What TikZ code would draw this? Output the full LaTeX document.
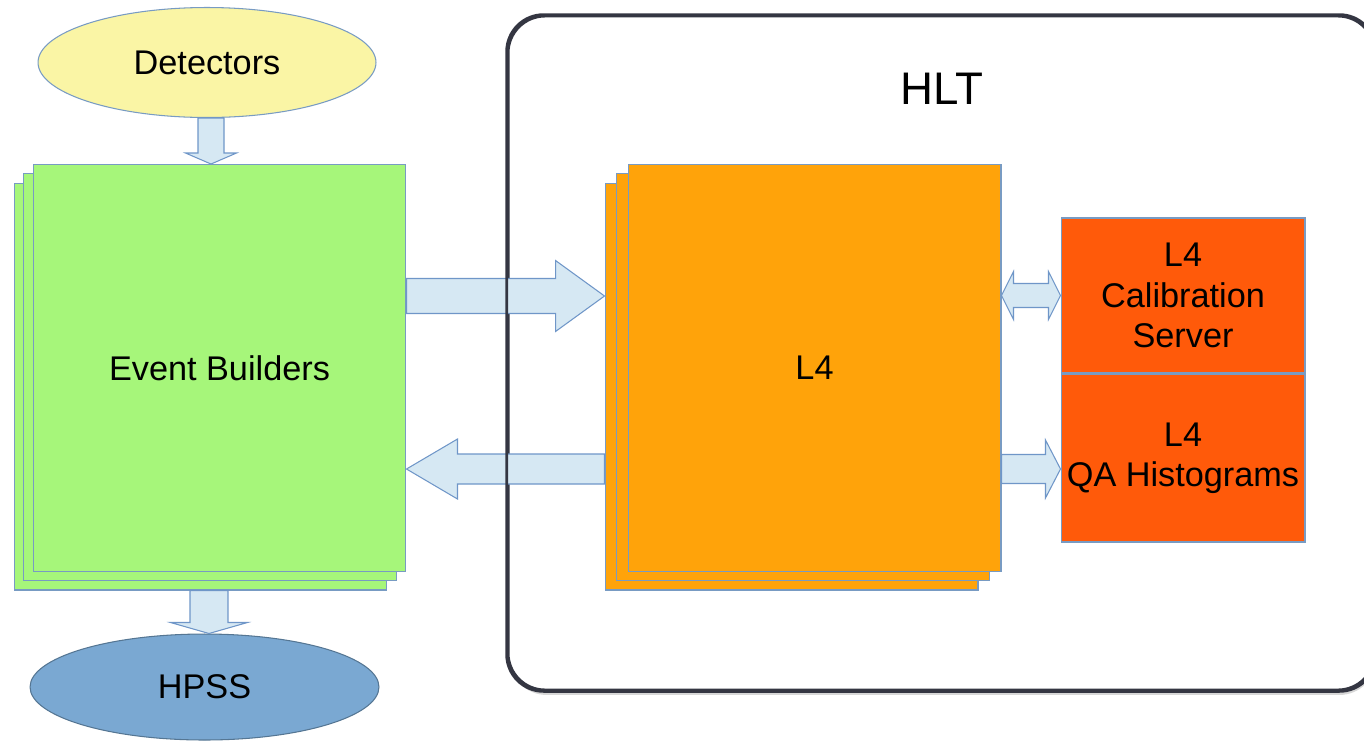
\documentclass[tikz,border=0pt]{standalone}
\usepackage{fontspec}
\setmainfont{Liberation Sans}
\usetikzlibrary{calc,shapes.geometric,shadows}

\definecolor{detyellow}{RGB}{250,245,165}
\definecolor{hpssblue}{RGB}{122,168,210}
\definecolor{ebgreen}{RGB}{166,246,122}
\definecolor{lforange}{RGB}{255,163,10}
\definecolor{siderange}{RGB}{255,90,10}
\definecolor{boxline}{RGB}{120,155,195}
\definecolor{hltline}{RGB}{52,54,66}
\definecolor{arrowfill}{RGB}{214,232,243}
\definecolor{arrowline}{RGB}{111,150,200}

% fat block arrow: from, to, half shaft, half head, head length
\newcommand{\fatarrow}[5]{%
  \path ($(#2)!#5!(#1)$) coordinate (fa-c);
  \draw[fat] ($(#1)!#3!90:(#2)$) -- ($(fa-c)!#3!90:(#2)$) -- ($(fa-c)!#4!90:(#2)$) -- (#2)
    -- ($(fa-c)!#4!-90:(#2)$) -- ($(fa-c)!#3!-90:(#2)$) -- ($(#1)!#3!-90:(#2)$) -- cycle;
}
% same, with a head at both ends
\newcommand{\fatdarrow}[5]{%
  \path ($(#1)!#5!(#2)$) coordinate (fa-a) ($(#2)!#5!(#1)$) coordinate (fa-c);
  \draw[fat] (#1) -- ($(fa-a)!#4!90:(#2)$) -- ($(fa-a)!#3!90:(#2)$) -- ($(fa-c)!#3!90:(#2)$)
    -- ($(fa-c)!#4!90:(#2)$) -- (#2) -- ($(fa-c)!#4!-90:(#2)$) -- ($(fa-c)!#3!-90:(#2)$)
    -- ($(fa-a)!#3!-90:(#2)$) -- ($(fa-a)!#4!-90:(#2)$) -- cycle;
}

\tikzset{
  every node/.style={font=\fontsize{19.5}{23}\selectfont, align=center},
  hltbox/.style={draw=hltline, line width=1.6pt, rounded corners=0.74cm, fill=white,
    minimum width=17.34cm, minimum height=13.48cm,
    drop shadow={shadow xshift=0.03cm, shadow yshift=-0.1cm, fill=black!35, opacity=0.45}},
  stackbox/.style={draw=boxline, line width=0.6pt, minimum width=7.46cm, minimum height=8.14cm},
  sidebox/.style={draw=boxline, line width=0.6pt, fill=siderange, minimum width=4.88cm},
  oval/.style={ellipse, draw=boxline, line width=0.6pt, inner sep=0pt},
  fat/.style={draw=arrowline, fill=arrowfill, line width=0.6pt, line join=miter},
}

\begin{document}
\begin{tikzpicture}[x=0.02cm, y=-0.02cm]
    \useasboundingbox (0,0) rectangle (1364,741);

    % HLT frame
    \node[hltbox] (hlt) at (941.5,353) {};
    \node[font=\fontsize{26}{30}\selectfont] (hlttitle) at ([yshift=-1.48cm]hlt.north) {HLT};

    % sources and sink
    \node[oval, fill=detyellow, minimum width=6.76cm, minimum height=2.2cm] (detectors) at (207,62.5) {Detectors};
    \node[oval, fill=hpssblue, draw=hpssblue!70!black, minimum width=6.98cm, minimum height=2.12cm] (hpss) at (204.5,687) {HPSS};

    % Event builder stack
    \node[stackbox, fill=ebgreen] (builders3) at (200.5,386.5) {};
    \node[stackbox, fill=ebgreen] (builders2) at ([shift={(9.5,-9.25)}]builders3.center) {};
    \node[stackbox, fill=ebgreen] (builders) at ([shift={(9.5,-9.25)}]builders2.center) {Event Builders};

    % L4 stack
    \node[stackbox, fill=lforange] (l4c) at (791.5,386.5) {};
    \node[stackbox, fill=lforange] (l4b) at ([shift={(11.5,-9.25)}]l4c.center) {};
    \node[stackbox, fill=lforange] (l4) at ([shift={(11.5,-9.25)}]l4b.center) {L4};

    % calibration and QA
    \node[sidebox, minimum height=3.1cm] (calib) at (1183,295.5) {L4\\Calibration\\Server};
    \node[sidebox, minimum height=3.36cm, anchor=north] (qa) at (calib.south) {L4\\QA Histograms};

    % arrow end points
    \coordinate (upY) at (0,296);
    \coordinate (downY) at (0,469);
    \coordinate (d1) at ([xshift=0.08cm]detectors.south);
    \coordinate (d2) at (builders.north -| d1);
    \coordinate (h1) at ([xshift=0.17cm]builders3.south);
    \coordinate (h2) at (hpss.north -| h1);
    \coordinate (e1) at (builders.east |- upY);
    \coordinate (e2) at (l4c.west |- upY);
    \coordinate (r1) at (l4c.west |- downY);
    \coordinate (r2) at (builders.east |- downY);
    \coordinate (c1) at (l4.east |- calib.west);
    \coordinate (c2) at (calib.west);
    \coordinate (q1) at (l4.east |- downY);
    \coordinate (q2) at (qa.west |- downY);

    \fatarrow{d1}{d2}{0.26cm}{0.51cm}{0.22cm}
    \fatarrow{h1}{h2}{0.38cm}{0.77cm}{0.22cm}
    \fatarrow{e1}{e2}{0.35cm}{0.71cm}{0.98cm}
    \fatarrow{r1}{r2}{0.3cm}{0.6cm}{1.02cm}
    \fatdarrow{c1}{c2}{0.24cm}{0.48cm}{0.24cm}
    \fatarrow{q1}{q2}{0.29cm}{0.58cm}{0.3cm}

    % frame line over the arrows
    \draw[hltline, line width=1.6pt, rounded corners=0.74cm] (hlt.south west) rectangle (hlt.north east);
\end{tikzpicture}
\end{document}
